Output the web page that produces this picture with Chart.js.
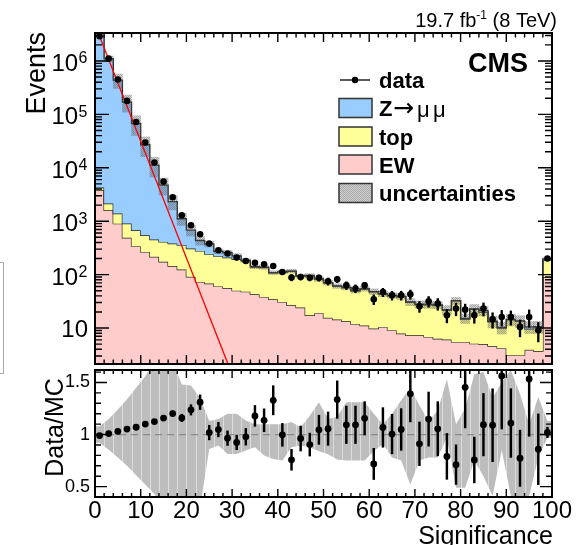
<!DOCTYPE html>
<html><head><meta charset="utf-8">
<script src="https://cdn.jsdelivr.net/npm/chart.js@4.4.1/dist/chart.umd.min.js"></script>
<style>
html,body{margin:0;padding:0;background:#fff;}
#wrap{position:relative;width:576px;height:545px;overflow:hidden;background:#fff;}
canvas{position:absolute;left:0;top:0;}
</style></head>
<body>
<div id="wrap"><canvas id="cBot" width="576" height="545"></canvas><canvas id="cTop" width="576" height="545"></canvas></div>
<script>
// ---------------- data ----------------
const significance = [1,3,5,7,9,11,13,15,17,19,21,23,25,27,29,31,33,35,37,39,41,43,45,47,49,51,53,55,57,59,61,63,65,67,69,71,73,75,77,79,81,83,85,87,89,91,93,95,97,99];
const dataEvents = [2900000,1110000,450000,179000,72000,29700,12600,5500,2800,1290,840,570,381,286,248,208,180,166,156,145,112,88,90.5,87,87,75,82,63,55,63,34.6,47,41,41,43,25.5,31.7,28.6,17.3,23.1,22.1,17.3,23.1,14.6,16.1,16.1,10.5,16.1,9.1,200];
const zmumu = [2926000,1098000,435600,169100,66600,26450,10750,4341,1949,757,372,157,133,52,49,31,4,2,2,1.5,1.5,1.5,1,1,1,1,1,0.8,0.8,0.8,0.7,0.7,0.6,0.6,0.5,0.5,0.5,0.5,0.4,0.4,0.6,0.4,1.2,0.3,0.3,0.3,0.3,0.8,0.3,10];
const topq = [460,540,490,413,337,279,238,235,236,231,216,205,173,161,152,144,132,96,97,73,80,88,69,78,63,54.5,46,43.4,37.7,42.6,37.7,32.8,31.1,30.6,23.1,20.2,20.3,20.3,15.4,26.6,9.1,17.4,14.9,8.55,5.8,11.1,10.2,5.8,6.6,96];
const ew = [3800,1600,900,490,340,266,215,174,145,124,91,73,68,60,56,50,48,42.8,38.2,34.6,30.8,26.7,24.1,17.3,19.2,15.5,14.4,13.4,11.8,11.1,9.8,10.5,9.1,7.9,7.3,7.3,6.8,6.3,6.1,5.5,5.5,5.1,5.0,4.55,4.2,3.1,3.1,3.9,3.7,90];
const mcUnc = [0.08,0.12,0.3,0.35,0.4,0.4,0.4,0.35,0.3,0.25,0.22,0.18,0.12,0.1,0.1,0.1,0.08,0.08,0.08,0.08,0.08,0.08,0.08,0.08,0.1,0.1,0.1,0.1,0.1,0.1,0.12,0.12,0.12,0.12,0.15,0.15,0.15,0.15,0.2,0.15,0.2,0.2,0.2,0.25,0.25,0.25,0.25,0.25,0.25,0.05];
const ratioErr = [0.005,0.005,0.005,0.006,0.008,0.01,0.015,0.02,0.025,0.035,0.05,0.07,0.07,0.07,0.07,0.07,0.08,0.1,0.11,0.14,0.11,0.1,0.12,0.11,0.14,0.16,0.18,0.18,0.18,0.16,0.15,0.19,0.19,0.2,0.27,0.21,0.26,0.26,0.22,0.19,0.39,0.22,0.3,0.35,0.51,0.33,0.27,0.55,0.34,0.05];
const bandHi = [1.08,1.15,1.24,1.34,1.45,1.56,1.7,1.7,1.7,1.48,1.47,1.35,1.13,1.15,1.2,1.2,1.135,1.1,1.1,1.1,1.1,1.12,1.07,1.18,1.31,1.15,1.17,1.31,1.31,1.31,1.2,1.1,1.2,1.33,1.45,1.28,1.13,1.23,1.53,1.1,1.25,1.58,1.6,1.35,1.5,1.62,1.39,1.1,1.36,1.13];
const bandLo = [0.92,0.855,0.78,0.70,0.61,0.52,0.43,0.3,0.3,0.3,0.3,0.3,0.862,0.894,0.814,0.814,0.846,0.878,0.798,0.766,0.75,0.878,0.894,0.878,0.84,0.81,0.76,0.75,0.75,0.75,0.84,0.91,0.78,0.75,0.52,0.75,0.78,0.78,0.97,0.49,0.49,0.75,0.6,0.41,0.85,0.41,0.41,0.41,0.78,0.97];
const fitX = [0, 30];
const fitY = [4.8e6, 1.35];
const xTickValues = [0,10,20,30,40,50,60,70,80,90,100];
const logTickExp = [1,2,3,4,5,6];
const ratioTickValues = [0.5,1,1.5];

// ---------------- derived tables ----------------
const FONT = '"Liberation Sans", Arial, Helvetica, sans-serif';
Chart.defaults.font.family = FONT;
const N = significance.length;
const edges = significance.map(s => s - 1).concat([significance[N-1] + 1]);
const stepData = vals => edges.map((x, i) => ({x, y: vals[Math.min(i, N-1)]}));
const cumEW = ew.slice();
const cumTop = ew.map((v, i) => v + topq[i]);
const cumAll = cumTop.map((v, i) => v + zmumu[i]);
const ratio = dataEvents.map((d, i) => d / cumAll[i]);

const ctxTop = document.getElementById('cTop').getContext('2d');
const ctxBot = document.getElementById('cBot').getContext('2d');

function uncPattern(ctx){
  const c = document.createElement('canvas'); c.width = 2; c.height = 2;
  const g = c.getContext('2d');
  g.fillStyle = 'rgba(95,95,95,0.55)'; g.fillRect(0,0,1,1); g.fillRect(1,1,1,1);
  g.fillStyle = 'rgba(95,95,95,0.28)'; g.fillRect(1,0,1,1); g.fillRect(0,1,1,1);
  return ctx.createPattern(c, 'repeat');
}
function bandPattern(ctx){
  const c = document.createElement('canvas'); c.width = 576; c.height = 2;
  const g = c.getContext('2d');
  g.fillStyle = '#bdbdbd'; g.fillRect(0,0,576,2);
  g.fillStyle = '#dcdcdc';
  for (let i = 0; i <= 50; i++) g.fillRect(Math.round(95 + i*457/50), 0, 1, 2);
  return ctx.createPattern(c, 'repeat');
}
const UNC = uncPattern(ctxTop);
const BAND = bandPattern(ctxBot);

// ---------------- top panel ----------------
const topDecor = {
  id: 'topDecor',
  afterDraw(chart){
    const {ctx, chartArea: a, scales: {x, y}} = chart;
    ctx.save();
    ctx.strokeStyle = '#000'; ctx.lineWidth = 1.4;
    ctx.beginPath();
    for (let v = 0; v <= 100; v += 2){
      const px = x.getPixelForValue(v); const L = v % 10 === 0 ? 9 : 4.5;
      ctx.moveTo(px, a.bottom); ctx.lineTo(px, a.bottom - L);
      ctx.moveTo(px, a.top); ctx.lineTo(px, a.top + L);
    }
    for (let e = 0; e <= 6; e++){
      for (let m = 1; m <= 9; m++){
        const val = m * Math.pow(10, e);
        if (val < y.min || val > y.max) continue;
        const py = y.getPixelForValue(val); const L = m === 1 ? 14 : 7;
        ctx.moveTo(a.left, py); ctx.lineTo(a.left + L, py);
        ctx.moveTo(a.right, py); ctx.lineTo(a.right - L, py);
      }
    }
    ctx.stroke();
    ctx.lineWidth = 2; ctx.strokeRect(a.left, a.top, a.right - a.left, a.bottom - a.top);

    // log axis labels
    ctx.fillStyle = '#000'; ctx.textBaseline = 'alphabetic'; ctx.textAlign = 'right';
    logTickExp.forEach(e => {
      const py = y.getPixelForValue(Math.pow(10, e));
      if (e === 1){ ctx.font = `24px ${FONT}`; ctx.fillText('10', 88, py + 9); }
      else {
        ctx.font = `16px ${FONT}`; const s = String(e); const sw = ctx.measureText(s).width;
        ctx.fillText(s, 87.5, py + 2.5);
        ctx.font = `24px ${FONT}`; ctx.fillText('10', 87.5 - sw - 0.5, py + 10);
      }
    });
    // y title
    ctx.save(); ctx.translate(45, 32); ctx.rotate(-Math.PI/2);
    ctx.font = `27px ${FONT}`; ctx.textAlign = 'right'; ctx.fillText('Events', 0, 0); ctx.restore();

    // header
    ctx.textAlign = 'left';
    const p1 = '19.7 fb', p2 = '-1', p3 = ' (8 TeV)';
    ctx.font = `20px ${FONT}`; const w1 = ctx.measureText(p1).width, w3 = ctx.measureText(p3).width;
    ctx.font = `12px ${FONT}`; const w2 = ctx.measureText(p2).width;
    let hx = 557 - (w1 + w2 + w3);
    ctx.font = `20px ${FONT}`; ctx.fillText(p1, hx, 27);
    ctx.font = `12px ${FONT}`; ctx.fillText(p2, hx + w1, 19);
    ctx.font = `20px ${FONT}`; ctx.fillText(p3, hx + w1 + w2, 27);

    // CMS
    ctx.font = `bold 27px ${FONT}`; ctx.textAlign = 'right'; ctx.fillText('CMS', 528, 72);

    // legend
    ctx.textAlign = 'left';
    const lx = 339, lw = 33, lh = 19;
    ctx.strokeStyle = '#000'; ctx.lineWidth = 1.3;
    ctx.beginPath(); ctx.moveTo(340, 80); ctx.lineTo(370, 80); ctx.stroke();
    ctx.beginPath(); ctx.arc(355, 80, 3.2, 0, Math.PI*2); ctx.fill();
    ctx.font = `bold 22px ${FONT}`; ctx.fillText('data', 379, 88);
    const boxes = [
      {yc: 108, fill: '#99ccff'},
      {yc: 136.5, fill: '#ffff99'},
      {yc: 164.5, fill: '#ffcccc'},
      {yc: 193, fill: null}
    ];
    boxes.forEach(b => {
      if (b.fill){ ctx.fillStyle = b.fill; ctx.fillRect(lx, b.yc - lh/2, lw, lh); }
      else { ctx.fillStyle = '#fff'; ctx.fillRect(lx, b.yc - lh/2, lw, lh); ctx.fillStyle = UNC; ctx.fillRect(lx, b.yc - lh/2, lw, lh); }
      ctx.strokeStyle = '#333'; ctx.lineWidth = 1.5; ctx.strokeRect(lx, b.yc - lh/2, lw, lh);
    });
    ctx.fillStyle = '#000';
    ctx.font = `bold 22px ${FONT}`; ctx.fillText('Z', 379, 116);
    ctx.font = `25px "DejaVu Sans", sans-serif`; ctx.fillText('\u2192', 393, 116);
    ctx.font = `22px ${FONT}`; ctx.fillText('\u03bc', 417, 117); ctx.fillText('\u03bc', 433, 117);
    ctx.font = `bold 22px ${FONT}`;
    ctx.fillText('top', 379, 144.5);
    ctx.fillText('EW', 379, 172.5);
    ctx.fillText('uncertainties', 379, 201);

    // left edge screenshot artefact
    ctx.strokeStyle = '#a8a8a8'; ctx.lineWidth = 1;
    ctx.beginPath(); ctx.moveTo(0, 262.5); ctx.lineTo(3.5, 262.5); ctx.lineTo(3.5, 373.5); ctx.lineTo(0, 373.5); ctx.stroke();
    ctx.restore();
  }
};

new Chart(ctxTop, {
  type: 'line',
  data: { datasets: [
    {label: 'EW', data: stepData(cumEW), stepped: true, fill: 'start', backgroundColor: '#ffcccc', borderColor: '#222', borderWidth: 1.3, pointRadius: 0, order: 6},
    {label: 'top', data: stepData(cumTop), stepped: true, fill: '-1', backgroundColor: '#ffff99', borderColor: '#222', borderWidth: 1.3, pointRadius: 0, order: 5},
    {label: 'Z->mumu', data: stepData(cumAll), stepped: true, fill: '-1', backgroundColor: '#99ccff', borderColor: '#222', borderWidth: 1.3, pointRadius: 0, order: 4},
    {type: 'bar', label: 'uncertainties', data: significance.map((s, i) => ({x: s, y: [cumAll[i]*(1 - mcUnc[i]), cumAll[i]*(1 + mcUnc[i])]})), backgroundColor: UNC, borderWidth: 0, grouped: false, barPercentage: 1, categoryPercentage: 1, order: 3},
    {label: 'fit', data: fitX.map((x, i) => ({x, y: fitY[i]})), borderColor: '#ff0000', borderWidth: 1.3, pointRadius: 0, fill: false, order: 2},
    {type: 'bar', label: 'data error', data: significance.map((s, i) => ({x: s, y: [dataEvents[i] - ratioErr[i]*cumAll[i], dataEvents[i] + ratioErr[i]*cumAll[i]]})), backgroundColor: '#000', borderWidth: 0, barThickness: 1.7, grouped: false, order: 1},
    {label: 'data', data: significance.map((s, i) => ({x: s, y: dataEvents[i]})), showLine: false, pointRadius: 3.3, pointBackgroundColor: '#000', pointBorderWidth: 0, order: 0}
  ]},
  options: {
    responsive: false, animation: false, devicePixelRatio: 1,
    layout: {padding: {left: 95, right: 24, top: 33, bottom: 181}},
    plugins: {legend: {display: false}, tooltip: {enabled: false}},
    scales: {
      x: {type: 'linear', min: 0, max: 100, display: false, offset: false},
      y: {type: 'logarithmic', min: 2.12, max: 3.34e6, display: false}
    }
  },
  plugins: [topDecor]
});

// ---------------- ratio panel ----------------
const botDecor = {
  id: 'botDecor',
  afterDraw(chart){
    const {ctx, chartArea: a, scales: {x, y}} = chart;
    ctx.save();
    ctx.strokeStyle = '#000'; ctx.lineWidth = 1.4;
    ctx.beginPath();
    for (let v = 0; v <= 100; v += 2){
      const px = x.getPixelForValue(v); const L = v % 10 === 0 ? 8 : 4;
      ctx.moveTo(px, a.bottom); ctx.lineTo(px, a.bottom - L);
      ctx.moveTo(px, a.top); ctx.lineTo(px, a.top + L);
    }
    for (let k = 4; k <= 16; k++){
      const v = k / 10; const py = y.getPixelForValue(v); const L = (k % 5 === 0) ? 12 : 6;
      ctx.moveTo(a.left, py); ctx.lineTo(a.left + L, py);
      ctx.moveTo(a.right, py); ctx.lineTo(a.right - L, py);
    }
    ctx.stroke();
    ctx.lineWidth = 2; ctx.strokeRect(a.left, a.top, a.right - a.left, a.bottom - a.top);
    ctx.fillStyle = '#000';
    ctx.save(); ctx.translate(63, 427.5); ctx.rotate(-Math.PI/2);
    ctx.font = `25px ${FONT}`; ctx.textAlign = 'center'; ctx.textBaseline = 'alphabetic';
    ctx.fillText('Data/MC', 0, 0); ctx.restore();
    ctx.font = `25px ${FONT}`; ctx.textAlign = 'right'; ctx.textBaseline = 'alphabetic';
    ctx.fillText('Significance', 553, 544);
    ctx.restore();
  }
};
const bandPts = arr => [{x: 0, y: arr[0]}].concat(significance.map((s, i) => ({x: s, y: arr[i]}))).concat([{x: 100, y: arr[N-1]}]);

new Chart(ctxBot, {
  type: 'line',
  data: { datasets: [
    {label: 'band low', data: bandPts(bandLo), borderWidth: 0, pointRadius: 0, fill: false, order: 6},
    {label: 'band high', data: bandPts(bandHi), borderWidth: 0, pointRadius: 0, fill: '-1', backgroundColor: BAND, order: 5},
    {label: 'unity', data: [{x: 0, y: 1}, {x: 100, y: 1}], borderColor: '#8a8a8a', borderDash: [7, 5], borderWidth: 1.3, pointRadius: 0, fill: false, order: 3},
    {type: 'bar', label: 'ratio error', data: significance.map((s, i) => ({x: s, y: [ratio[i] - ratioErr[i], ratio[i] + ratioErr[i]]})), backgroundColor: '#000', borderWidth: 0, barThickness: 1.8, grouped: false, order: 1},
    {label: 'ratio', data: significance.map((s, i) => ({x: s, y: ratio[i]})), showLine: false, pointRadius: 3.4, pointBackgroundColor: '#000', pointBorderWidth: 0, order: 0}
  ]},
  options: {
    responsive: false, animation: false, devicePixelRatio: 1,
    layout: {padding: {left: 0, right: 24, top: 370, bottom: 0}},
    plugins: {legend: {display: false}, tooltip: {enabled: false}},
    scales: {
      x: {type: 'linear', min: 0, max: 100, offset: false,
          afterFit: s => { s.height = 48; },
          afterBuildTicks: s => { s.ticks = xTickValues.map(v => ({value: v})); },
          grid: {display: false, drawTicks: false}, border: {display: false},
          ticks: {font: {size: 24, lineHeight: 1}, color: '#000', padding: 2, maxRotation: 0, autoSkip: false, callback: v => String(v)}},
      y: {type: 'linear', min: 0.4, max: 1.62,
          afterFit: s => { s.width = 95; },
          afterBuildTicks: s => { s.ticks = ratioTickValues.map(v => ({value: v})); },
          grid: {display: false, drawTicks: false}, border: {display: false},
          ticks: {font: {size: 18, lineHeight: 1}, color: '#000', padding: 5, autoSkip: false, callback: v => String(v)}}
    }
  },
  plugins: [botDecor]
});
</script>
</body></html>
